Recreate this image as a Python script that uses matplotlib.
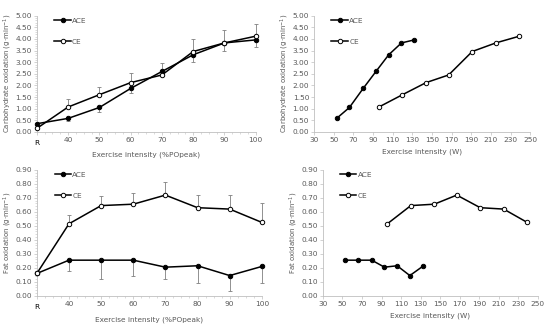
import matplotlib.pyplot as plt
import matplotlib.ticker as tck
import numpy as np

# category axis (left panels)
cats = ["R", "40", "50", "60", "70", "80", "90", "100"]

# carbohydrate oxidation (g/min)
cho_ace = [0.35, 0.58, 1.05, 1.87, 2.60, 3.32, 3.83, 3.96]
cho_ace_sd = [0.00, 0.10, 0.20, 0.19, 0.15, 0.30, 0.33, 0.30]
cho_ce = [0.15, 1.07, 1.60, 2.12, 2.45, 3.46, 3.83, 4.12]
cho_ce_sd = [0.00, 0.33, 0.35, 0.43, 0.50, 0.56, 0.57, 0.53]

# fat oxidation (g/min)
fat_ace = [0.16, 0.255, 0.255, 0.255, 0.205, 0.215, 0.145, 0.21]
fat_ace_sd = [0.00, 0.075, 0.135, 0.115, 0.085, 0.125, 0.11, 0.115]
fat_ce = [0.16, 0.515, 0.645, 0.655, 0.72, 0.63, 0.62, 0.525]
fat_ce_sd = [0.00, 0.06, 0.07, 0.08, 0.095, 0.09, 0.10, 0.14]

# absolute power (W), no rest value
ace_w = [53, 66, 80, 93, 106, 119, 132]
ce_w = [96, 120, 144, 167, 191, 215, 239]

grey = "#595959"
fs = 5.3

fig = plt.figure(figsize=(5.5, 3.28), dpi=100)
ax1 = fig.add_axes([0.067, 0.598, 0.398, 0.354])
ax2 = fig.add_axes([0.571, 0.598, 0.393, 0.354])
ax3 = fig.add_axes([0.067, 0.098, 0.409, 0.384])
ax4 = fig.add_axes([0.587, 0.098, 0.391, 0.384])


def style(ax, ymax, ystep, ylab, xlab):
    for s in ["top", "right"]:
        ax.spines[s].set_visible(False)
    for s in ["left", "bottom"]:
        ax.spines[s].set_color("#bfbfbf")
        ax.spines[s].set_linewidth(0.6)
    ax.set_ylim(0, ymax)
    ax.set_yticks(np.arange(0, ymax + ystep / 2, ystep))
    ax.yaxis.set_major_formatter(tck.FormatStrFormatter("%.2f"))
    ax.tick_params(labelsize=fs, colors=grey, length=2, width=0.5, pad=1.5)
    ax.tick_params(axis="both", which="both", color="#bfbfbf")
    ax.set_ylabel(ylab, fontsize=5, color=grey, labelpad=1)
    ax.set_xlabel(xlab, fontsize=fs, color=grey, labelpad=4)


def series(ax, x, y, sd, filled, down):
    if sd is not None:
        yerr = [sd, [0] * len(sd)] if down else [[0] * len(sd), sd]
        ax.errorbar(x[1:], y[1:], yerr=[e[1:] for e in yerr], fmt="none",
                    ecolor="#7f7f7f", elinewidth=0.6, capsize=1.5,
                    capthick=0.6, zorder=2, clip_on=False)
    ax.plot(x, y, color="black", lw=1.1, marker="o", ms=3.2,
            mfc="black" if filled else "white", mec="black", mew=0.7,
            label="ACE" if filled else "CE", zorder=3, clip_on=False)


def legend(ax):
    ax.legend(loc="upper left", bbox_to_anchor=(0.05, 1.04), frameon=False,
              fontsize=fs, labelspacing=2.0, handlelength=2.2,
              handletextpad=0.2, labelcolor=grey)


xi = np.arange(len(cats))

# top left
series(ax1, xi, cho_ace, cho_ace_sd, True, True)
series(ax1, xi, cho_ce, cho_ce_sd, False, False)
style(ax1, 5.0, 0.5, "Carbohydrate oxidation (g·min$^{-1}$)",
      "Exercise intensity (%POpeak)")
ax1.set_xlim(0, 7)
ax1.set_xticks(xi)
ax1.set_xticklabels(cats)
ax1.xaxis.set_minor_locator(tck.AutoMinorLocator(4))
ax1.yaxis.set_minor_locator(tck.AutoMinorLocator(5))
ax1.tick_params(which="minor", length=1.2, width=0.4)
legend(ax1)

# top right
series(ax2, ace_w, cho_ace[1:], None, True, True)
series(ax2, ce_w, cho_ce[1:], None, False, False)
style(ax2, 5.0, 0.5, "Carbohydrate oxidation (g·min$^{-1}$)",
      "Exercise intensity (W)")
ax2.set_xlim(30, 250)
ax2.set_xticks(np.arange(30, 251, 20))
legend(ax2)

# bottom left
series(ax3, xi, fat_ace, fat_ace_sd, True, True)
series(ax3, xi, fat_ce, fat_ce_sd, False, False)
style(ax3, 0.9, 0.1, "Fat oxidation (g·min$^{-1}$)",
      "Exercise intensity (%POpeak)")
ax3.set_xlim(0, 7)
ax3.set_xticks(xi)
ax3.set_xticklabels(cats)
ax3.xaxis.set_minor_locator(tck.AutoMinorLocator(4))
ax3.yaxis.set_minor_locator(tck.AutoMinorLocator(5))
ax3.tick_params(which="minor", length=1.2, width=0.4)
legend(ax3)

# bottom right
series(ax4, ace_w, fat_ace[1:], None, True, True)
series(ax4, ce_w, fat_ce[1:], None, False, False)
style(ax4, 0.9, 0.1, "Fat oxidation (g·min$^{-1}$)",
      "Exercise intensity (W)")
ax4.set_xlim(30, 250)
ax4.set_xticks(np.arange(30, 251, 20))
legend(ax4)

for ax in (ax1, ax3):
    lbl = ax.get_xticklabels()[0]
    lbl.set_color("black")
    lbl.set_y(-0.03)

fig.savefig("out.png", dpi=100)
